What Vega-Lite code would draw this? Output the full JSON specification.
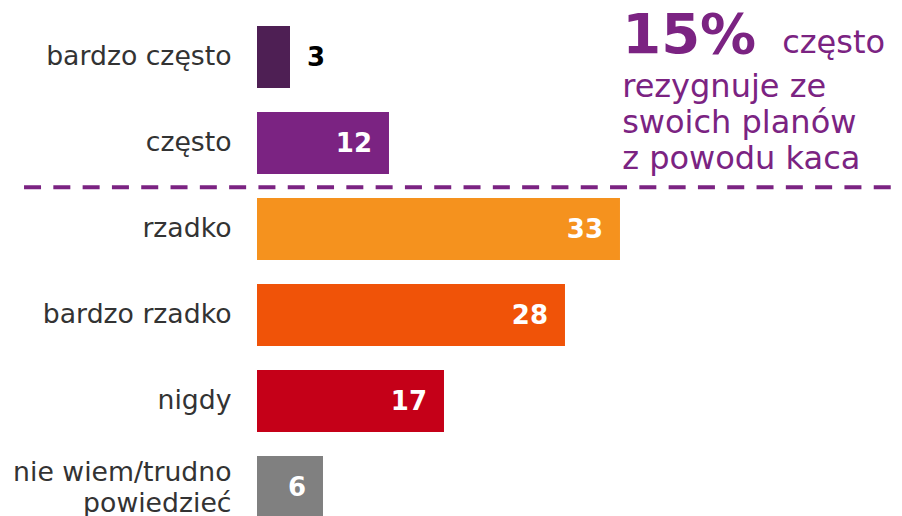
{
  "$schema": "https://vega.github.io/schema/vega-lite/v6.json",
  "width": 645,
  "height": 502,
  "autosize": {"type": "none"},
  "padding": {"left": 257, "top": 14, "right": 0, "bottom": 0},
  "background": "white",
  "config": {"view": {"stroke": null}, "font": "DejaVu Sans"},
  "data": {
    "values": [
      {"kat": "bardzo często", "v": 3},
      {"kat": "często", "v": 12},
      {"kat": "rzadko", "v": 33},
      {"kat": "bardzo rzadko", "v": 28},
      {"kat": "nigdy", "v": 17},
      {"kat": "nie wiem/trudno powiedzieć", "v": 6}
    ]
  },
  "encoding": {
    "y": {
      "field": "kat",
      "type": "nominal",
      "sort": null,
      "title": null,
      "scale": {"range": [0, 516], "paddingInner": 0.279, "paddingOuter": 0.14},
      "axis": {
        "ticks": false,
        "tickSize": 0,
        "domain": false,
        "labelPadding": 26,
        "labelFontSize": 26.7,
        "labelColor": "#333333",
        "labelFont": "DejaVu Sans",
        "labelLineHeight": 31,
        "labelLimit": 300,
        "labelOffset": {"condition": {"test": "datum.value == 'nie wiem/trudno powiedzieć'", "value": -14}, "value": 0},
        "labelExpr": "datum.value == 'nie wiem/trudno powiedzieć' ? ['nie wiem/trudno', 'powiedzieć'] : datum.label"
      }
    },
    "x": {
      "field": "v",
      "type": "quantitative",
      "scale": {"domain": [0, 58.64], "nice": false, "zero": true},
      "axis": null
    }
  },
  "layer": [
    {
      "mark": {"type": "bar"},
      "encoding": {
        "color": {
          "field": "kat",
          "type": "nominal",
          "legend": null,
          "scale": {
            "domain": ["bardzo często", "często", "rzadko", "bardzo rzadko", "nigdy", "nie wiem/trudno powiedzieć"],
            "range": ["#4E1F54", "#7B2382", "#F5921E", "#F05308", "#C50018", "#808080"]
          }
        }
      }
    },
    {
      "transform": [{"filter": "datum.v >= 5"}],
      "mark": {"type": "text", "align": "right", "baseline": "middle", "dx": -17, "dy": 1, "fontSize": 26, "fontWeight": "bold", "color": "white", "font": "DejaVu Sans"},
      "encoding": {"text": {"field": "v", "type": "quantitative"}}
    },
    {
      "transform": [{"filter": "datum.v < 5"}],
      "mark": {"type": "text", "align": "left", "baseline": "middle", "dx": 17, "dy": 1, "fontSize": 26, "fontWeight": "bold", "color": "black", "font": "DejaVu Sans"},
      "encoding": {"text": {"field": "v", "type": "quantitative"}}
    },
    {
      "transform": [{"filter": "datum.kat == 'często'"}],
      "mark": {"type": "rule", "strokeDash": [17, 12.3], "strokeWidth": 4, "color": "#7B2382"},
      "encoding": {
        "x": {"datum": -21.18, "type": "quantitative"},
        "x2": {"datum": 58.64},
        "y": {"field": "kat", "type": "nominal", "sort": null, "bandPosition": 1.215}
      }
    },
    {
      "transform": [{"filter": "datum.kat == 'bardzo często'"}],
      "mark": {"type": "text", "text": "15%", "align": "left", "baseline": "alphabetic", "fontSize": 56, "fontWeight": "bold", "color": "#7B2382", "font": "DejaVu Sans"},
      "encoding": {
        "x": {"datum": 33.2, "type": "quantitative"},
        "y": {"field": "kat", "type": "nominal", "sort": null, "bandPosition": 0.44}
      }
    },
    {
      "transform": [{"filter": "datum.kat == 'bardzo często'"}],
      "mark": {"type": "text", "text": "często", "align": "left", "baseline": "alphabetic", "fontSize": 32, "color": "#7B2382", "font": "DejaVu Sans"},
      "encoding": {
        "x": {"datum": 47.75, "type": "quantitative"},
        "y": {"field": "kat", "type": "nominal", "sort": null, "bandPosition": 0.44}
      }
    },
    {
      "transform": [{"filter": "datum.kat == 'bardzo często'"}],
      "mark": {"type": "text", "text": ["rezygnuje ze", "swoich planów", "z powodu kaca"], "lineHeight": 36, "align": "left", "baseline": "alphabetic", "fontSize": 32, "color": "#7B2382", "font": "DejaVu Sans"},
      "encoding": {
        "x": {"datum": 33.2, "type": "quantitative"},
        "y": {"field": "kat", "type": "nominal", "sort": null, "bandPosition": 1.15}
      }
    }
  ]
}
